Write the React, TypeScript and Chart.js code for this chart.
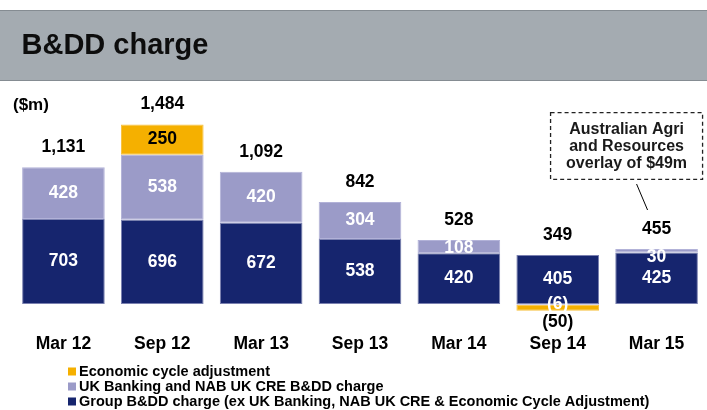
import React, { useEffect, useRef } from 'react';
import { Chart, registerables } from 'chart.js';

Chart.register(...registerables);

// ---- data ----
const categories = ['Mar 12', 'Sep 12', 'Mar 13', 'Sep 13', 'Mar 14', 'Sep 14', 'Mar 15'];
const groupCharge = [703, 696, 672, 538, 420, 405, 425];
const ukCharge = [428, 538, 420, 304, 108, -6, 30];
const ecaCharge: (number | null)[] = [null, 250, null, null, null, -50, null];
const seriesLabels = [
  'Group B&DD charge (ex UK Banking, NAB UK CRE & Economic Cycle Adjustment)',
  'UK Banking and NAB UK CRE B&DD charge',
  'Economic cycle adjustment',
];
const seriesColors = ['#16256e', '#9b9bc8', '#f5b000'];
const seriesBorders = ['#7a80b0', '#b2b2d8', '#f7c140'];
const titleText = 'B&DD charge';
const unitText = '($m)';
const calloutLines = ['Australian Agri', 'and Resources', 'overlay of $49m'];

const FONT = '"Liberation Sans", Arial, Helvetica, sans-serif';

const fmt = (v: number) => {
  const s = Math.abs(v).toLocaleString('en-US');
  return v < 0 ? `(${s})` : s;
};

const overlayPlugin = {
  id: 'overlay',
  beforeDraw(chart: any) {
    const ctx = chart.ctx;
    ctx.save();
    ctx.fillStyle = '#a4abb1';
    ctx.fillRect(0, 10, chart.width, 71);
    ctx.fillStyle = '#858c92';
    ctx.fillRect(0, 10, chart.width, 1);
    ctx.fillRect(0, 80, chart.width, 1);
    ctx.fillStyle = '#0d0d0d';
    ctx.textAlign = 'left';
    ctx.textBaseline = 'alphabetic';
    ctx.font = `bold 29px ${FONT}`;
    ctx.fillText(titleText, 21.5, 54);
    ctx.fillStyle = '#000';
    ctx.font = `bold 17px ${FONT}`;
    ctx.fillText(unitText, 13, 110);
    ctx.restore();
  },
  afterDatasetsDraw(chart: any) {
    const ctx = chart.ctx;
    ctx.save();
    ctx.textAlign = 'center';
    ctx.textBaseline = 'middle';
    ctx.font = `bold 17.5px ${FONT}`;
    const n = categories.length;
    const tops: number[] = new Array(n).fill(Infinity);
    const totals: number[] = new Array(n).fill(0);
    chart.data.datasets.forEach((ds: any, i: number) => {
      const meta = chart.getDatasetMeta(i);
      meta.data.forEach((el: any, j: number) => {
        const v = ds.data[j];
        if (v === null || v === undefined) return;
        totals[j] += v;
        const top = Math.min(el.y, el.base);
        const bottom = Math.max(el.y, el.base);
        const center = (top + bottom) / 2;
        if (v > 0) tops[j] = Math.min(tops[j], top);
        let ly = center;
        let color = i === 2 ? '#000' : '#fff';
        if (i === 2 && v < 0) {
          ly = bottom + 11;
          color = '#000';
        } else if (v > 0) {
          ly = Math.max(center, top + 8);
        }
        ctx.fillStyle = color;
        ctx.fillText(fmt(v), el.x, ly);
      });
    });
    ctx.fillStyle = '#000';
    const meta0 = chart.getDatasetMeta(0);
    meta0.data.forEach((el: any, j: number) => {
      ctx.fillText(fmt(totals[j]), el.x, tops[j] - 20);
    });
    ctx.restore();
  },
  afterDraw(chart: any) {
    const ctx = chart.ctx;
    ctx.save();
    // legend (reverse dataset order)
    const ds = chart.data.datasets.slice().reverse();
    ctx.font = `bold 14.5px ${FONT}`;
    ctx.textAlign = 'left';
    ctx.textBaseline = 'middle';
    ds.forEach((d: any, k: number) => {
      const y = 371.5 + 15 * k;
      ctx.fillStyle = d.backgroundColor;
      ctx.fillRect(68, y - 4, 8, 8);
      ctx.fillStyle = '#000';
      ctx.fillText(d.label, 79, y);
    });
    // callout
    const last = chart.getDatasetMeta(0).data[categories.length - 1];
    const cx = last.x - 30;
    ctx.strokeStyle = '#222';
    ctx.lineWidth = 1.3;
    ctx.setLineDash([4, 3]);
    ctx.strokeRect(cx - 76, 112.7, 152, 66.6);
    ctx.setLineDash([]);
    ctx.lineWidth = 1;
    ctx.strokeStyle = '#000';
    ctx.beginPath();
    ctx.moveTo(last.x - 20, 184);
    ctx.lineTo(last.x - 9, 210);
    ctx.stroke();
    ctx.fillStyle = '#1a1a1a';
    ctx.textAlign = 'center';
    ctx.font = `bold 16px ${FONT}`;
    calloutLines.forEach((t, k) => {
      ctx.fillText(t, cx, 129.5 + 17 * k);
    });
    ctx.restore();
  },
};

export default function App() {
  const ref = useRef<HTMLCanvasElement | null>(null);
  useEffect(() => {
    if (!ref.current) return;
    const series = [groupCharge, ukCharge, ecaCharge];
    const chart = new Chart(ref.current, {
      type: 'bar',
      data: {
        labels: categories,
        datasets: series.map((d, i) => ({
          label: seriesLabels[i],
          data: d as any,
          backgroundColor: seriesColors[i],
          borderColor: seriesBorders[i],
          borderWidth: 1,
          borderSkipped: false as any,
          barPercentage: 0.836,
          categoryPercentage: 1,
        })),
      },
      options: {
        responsive: false,
        animation: false,
        layout: { padding: { top: 92.25, left: 14, right: 1, bottom: 36.9 } },
        plugins: { legend: { display: false }, tooltip: { enabled: false } },
        scales: {
          x: {
            stacked: true,
            grid: { display: false, drawTicks: false, tickLength: 0 },
            border: { display: false },
            ticks: {
              color: '#000',
              padding: 18,
              font: { family: FONT, size: 17.5, weight: 'bold' },
            },
          },
          y: {
            stacked: true,
            display: false,
            min: -100,
            max: 1750,
          },
        },
      },
      plugins: [overlayPlugin],
    });
    return () => chart.destroy();
  }, []);
  return (
    <div style={{ position: 'absolute', left: 0, top: 0, width: 707, height: 410 }}>
      <canvas ref={ref} width={707} height={410} style={{ display: 'block' }} />
    </div>
  );
}
